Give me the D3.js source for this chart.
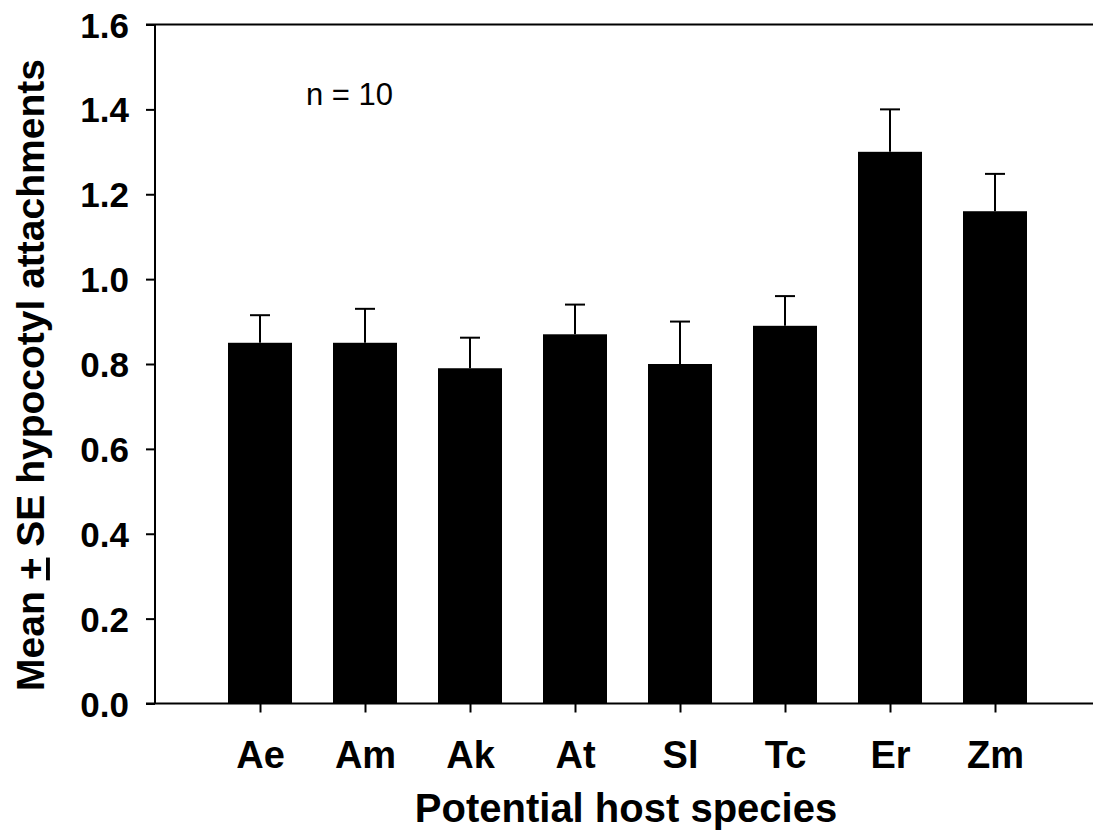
<!DOCTYPE html>
<html>
<head>
<meta charset="utf-8">
<script src="https://cdn.jsdelivr.net/npm/d3@7"></script>
<style>
  html, body { margin: 0; padding: 0; background: #fff; }
  svg { display: block; }
  text { font-family: "Liberation Sans", Arial, Helvetica, sans-serif; fill: #000; }
</style>
</head>
<body>
<svg id="chart" width="1093" height="834"></svg>
<script>
// Host species codes (x axis)
const species = ["Ae", "Am", "Ak", "At", "Sl", "Tc", "Er", "Zm"];
// Mean hypocotyl attachments per host
const means = [0.85, 0.85, 0.79, 0.87, 0.80, 0.89, 1.30, 1.16];
// Standard errors
const errors = [0.065, 0.08, 0.072, 0.07, 0.10, 0.07, 0.10, 0.088];
// Y axis tick values
const yTicks = [0, 0.2, 0.4, 0.6, 0.8, 1.0, 1.2, 1.4, 1.6];

const svg = d3.select("#chart");
const plotLeft = 155, plotRight = 1100, plotTop = 24.5, plotBottom = 703.5;

const x = d3.scalePoint().domain(species).range([plotLeft, plotRight]).padding(1);
const y = d3.scaleLinear().domain([0, 1.6]).range([plotBottom, plotTop]);
const barW = 64, capW = 20;

// Top border line
svg.append("line")
  .attr("x1", plotLeft - 9).attr("x2", 1093)
  .attr("y1", plotTop).attr("y2", plotTop)
  .attr("stroke", "#000").attr("stroke-width", 2);

// Bars
svg.append("g").selectAll("rect")
  .data(species)
  .join("rect")
  .attr("x", d => x(d) - barW / 2)
  .attr("width", barW)
  .attr("y", (d, i) => y(means[i]))
  .attr("height", (d, i) => y(0) - y(means[i]))
  .attr("fill", "#000");

// Upper error bars
const eb = svg.append("g").attr("stroke", "#000").attr("stroke-width", 2);
eb.selectAll("line.v")
  .data(species)
  .join("line").attr("class", "v")
  .attr("x1", d => x(d)).attr("x2", d => x(d))
  .attr("y1", (d, i) => y(means[i]))
  .attr("y2", (d, i) => y(means[i] + errors[i]));
eb.selectAll("line.cap")
  .data(species)
  .join("line").attr("class", "cap")
  .attr("x1", d => x(d) - capW / 2).attr("x2", d => x(d) + capW / 2)
  .attr("y1", (d, i) => y(means[i] + errors[i]))
  .attr("y2", (d, i) => y(means[i] + errors[i]));

// Y axis
const yAxis = svg.append("g")
  .attr("transform", `translate(${plotLeft},0)`)
  .call(d3.axisLeft(y).tickValues(yTicks).tickFormat(d3.format(".1f")).tickSize(9).tickPadding(17));
yAxis.select(".domain").attr("stroke-width", 2).attr("d", `M0,${plotTop}V${plotBottom}`);
yAxis.selectAll(".tick line").attr("stroke-width", 2);
yAxis.selectAll(".tick text")
  .attr("font-size", 35).attr("font-weight", "bold")
  .attr("font-family", "Liberation Sans, Arial, sans-serif")
  .attr("fill", "#000").attr("dy", "0.36em");

// X axis
const xAxis = svg.append("g")
  .attr("transform", `translate(0,${plotBottom})`)
  .call(d3.axisBottom(x).tickSize(9).tickPadding(0));
xAxis.select(".domain").attr("stroke-width", 2).attr("d", `M${plotLeft - 9},0H1093`);
xAxis.selectAll(".tick line").attr("stroke-width", 2);
xAxis.selectAll(".tick text")
  .attr("font-size", 38).attr("font-weight", "bold")
  .attr("font-family", "Liberation Sans, Arial, sans-serif")
  .attr("fill", "#000")
  .attr("y", 64).attr("dy", null);

// Axis titles
svg.append("text")
  .attr("x", 626).attr("y", 822)
  .attr("text-anchor", "middle")
  .attr("font-size", 40).attr("font-weight", "bold")
  .text("Potential host species");

const yTitle = svg.append("text")
  .attr("transform", "translate(44,375) rotate(-90)")
  .attr("text-anchor", "middle")
  .attr("font-size", 39).attr("font-weight", "bold");
yTitle.append("tspan").text("Mean ");
yTitle.append("tspan").attr("text-decoration", "underline").text("+");
yTitle.append("tspan").text(" SE hypocotyl attachments");

// Sample size note
svg.append("text")
  .attr("x", 306).attr("y", 105)
  .attr("font-size", 31)
  .text("n = 10");
</script>
</body>
</html>
